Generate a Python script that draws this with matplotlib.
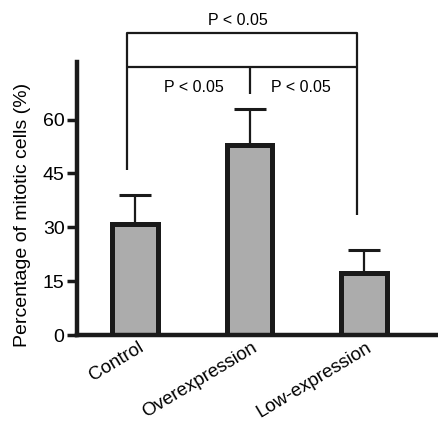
import numpy as np
import matplotlib.pyplot as plt

plt.rcParams['font.family'] = ['Liberation Sans', 'DejaVu Sans']

groups = ['Control', 'Overexpression', 'Low-expression']
means = [31, 53, 17.3]
errs = [8, 10, 6.4]
yticks = [0, 15, 30, 45, 60]

fig = plt.figure(figsize=(4.38, 4.22), dpi=100)
ax = fig.add_axes([0.176, 0.206, 0.85, 0.647])

x = np.arange(len(groups))
ax.errorbar(x, means, yerr=[np.zeros(3), errs], fmt='none', ecolor='#1a1a1a',
            elinewidth=1.6, capsize=11.5, capthick=2.2, zorder=1)
ax.bar(x, means, width=0.40, color='#acacac', edgecolor='#1a1a1a', linewidth=3.6, zorder=2)

ax.set_xlim(-0.51, 2.75)
ax.set_ylim(0, 76)
ax.set_yticks(yticks)
ax.set_xticks(x + 0.02)
ax.set_xticklabels(groups, rotation=31, ha='right', rotation_mode='anchor', fontsize=13.5)
ax.tick_params(axis='x', length=0, pad=3)
ax.tick_params(axis='y', length=7, width=2.5, labelsize=14, pad=2, color='#1a1a1a')
for s in ['top', 'right']:
    ax.spines[s].set_visible(False)
for s in ['left', 'bottom']:
    ax.spines[s].set_linewidth(3.2)
    ax.spines[s].set_color('#1a1a1a')
ax.set_ylabel('Percentage of mitotic cells (%)', fontsize=14)
ax.yaxis.set_label_coords(-0.125, 0.44)

# significance brackets
kw = dict(color='#1a1a1a', lw=1.6, clip_on=False, solid_capstyle='butt')
ax.plot([-0.07, -0.07, 1.94, 1.94], [46, 84, 84, 33.5], **kw)
ax.plot([-0.07, 1.94], [74.6, 74.6], **kw)
ax.plot([1.0, 1.0], [74.6, 67], **kw)
ax.text(0.90, 87.7, 'P < 0.05', ha='center', va='center', fontsize=11.5)
ax.text(0.51, 69, 'P < 0.05', ha='center', va='center', fontsize=11.5)
ax.text(1.45, 69, 'P < 0.05', ha='center', va='center', fontsize=11.5)

fig.savefig('out.png', dpi=100)
